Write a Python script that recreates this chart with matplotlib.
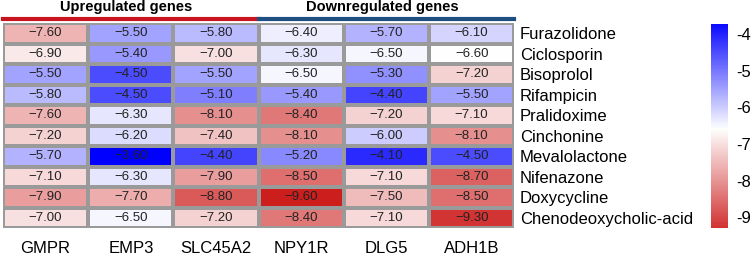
import numpy as np
import matplotlib.pyplot as plt
from matplotlib.colors import LinearSegmentedColormap, Normalize

plt.rcParams['font.family'] = ['Liberation Sans', 'DejaVu Sans']

genes = ['GMPR', 'EMP3', 'SLC45A2', 'NPY1R', 'DLG5', 'ADH1B']
drugs = ['Furazolidone', 'Ciclosporin', 'Bisoprolol', 'Rifampicin', 'Pralidoxime',
         'Cinchonine', 'Mevalolactone', 'Nifenazone', 'Doxycycline', 'Chenodeoxycholic-acid']

# binding energies, rows = drugs, cols = genes
scores = np.array([
    [-7.6, -5.5, -5.8, -6.4, -5.7, -6.1],
    [-6.9, -5.4, -7.0, -6.3, -6.5, -6.6],
    [-5.5, -4.5, -5.5, -6.5, -5.3, -7.2],
    [-5.8, -4.5, -5.1, -5.4, -4.4, -5.5],
    [-7.6, -6.3, -8.1, -8.4, -7.2, -7.1],
    [-7.2, -6.2, -7.4, -8.1, -6.0, -8.1],
    [-5.7, -3.6, -4.4, -5.2, -4.1, -4.5],
    [-7.1, -6.3, -7.9, -8.5, -7.1, -8.7],
    [-7.9, -7.7, -8.8, -9.6, -7.5, -8.5],
    [-7.0, -6.5, -7.2, -8.4, -7.1, -9.3],
])
groups = ['Upregulated genes', 'Downregulated genes']
cbar_ticks = [-4, -5, -6, -7, -8, -9]

cmap = LinearSegmentedColormap.from_list('bwr2', ['#cd1e1e', '#ffffff', '#0000ff'])
norm = Normalize(vmin=-9.6, vmax=-3.6)

fig = plt.figure(figsize=(7.54, 2.56), dpi=100)
ax = fig.add_axes([0.004, 0.109, 0.678, 0.801])

nr, nc = scores.shape
ax.pcolormesh(np.arange(nc + 1), np.arange(nr + 1), scores, cmap=cmap, norm=norm,
              edgecolors='#9a9a9a', linewidth=1.5)
ax.set_xlim(0, nc)
ax.set_ylim(nr, 0)
for i in range(nr):
    for j in range(nc):
        ax.text(j + 0.5, i + 0.5, f'{scores[i, j]:.2f}'.replace('-', '\u2212'),
                ha='center', va='center', fontsize=9.5, color='#222222')

ax.set_xticks(np.arange(nc) + 0.5)
ax.set_xticklabels(genes, fontsize=12)
ax.set_yticks(np.arange(nr) + 0.5)
ax.set_yticklabels(drugs, fontsize=12)
ax.yaxis.tick_right()
ax.tick_params(length=0, pad=4)
ax.tick_params(axis='x', pad=9)
for s in ax.spines.values():
    s.set_visible(False)

# group header bars
ax.plot([0, 3], [-0.2, -0.2], color='#c8141e', lw=3, clip_on=False)
ax.plot([3, 6], [-0.2, -0.2], color='#1f4e80', lw=3, clip_on=False)
ax.text(1.45, -0.78, groups[0], ha='center', va='center', fontsize=10.5, fontweight='bold')
ax.text(4.45, -0.78, groups[1], ha='center', va='center', fontsize=10.5, fontweight='bold')

# colour bar drawn as a gradient image
cax = fig.add_axes([0.943, 0.109, 0.0225, 0.797])
grad = np.linspace(-9.3, -3.72, 200).reshape(-1, 1)
cax.imshow(grad, cmap=cmap, norm=norm, aspect='auto', origin='lower',
           extent=[0, 1, -9.3, -3.72])
cax.set_xticks([])
cax.yaxis.tick_right()
cax.set_yticks(cbar_ticks)
cax.set_yticklabels([str(t) for t in cbar_ticks])
cax.tick_params(length=0, labelsize=12, pad=6)
for s in cax.spines.values():
    s.set_visible(False)

fig.savefig('out.png', dpi=100)
